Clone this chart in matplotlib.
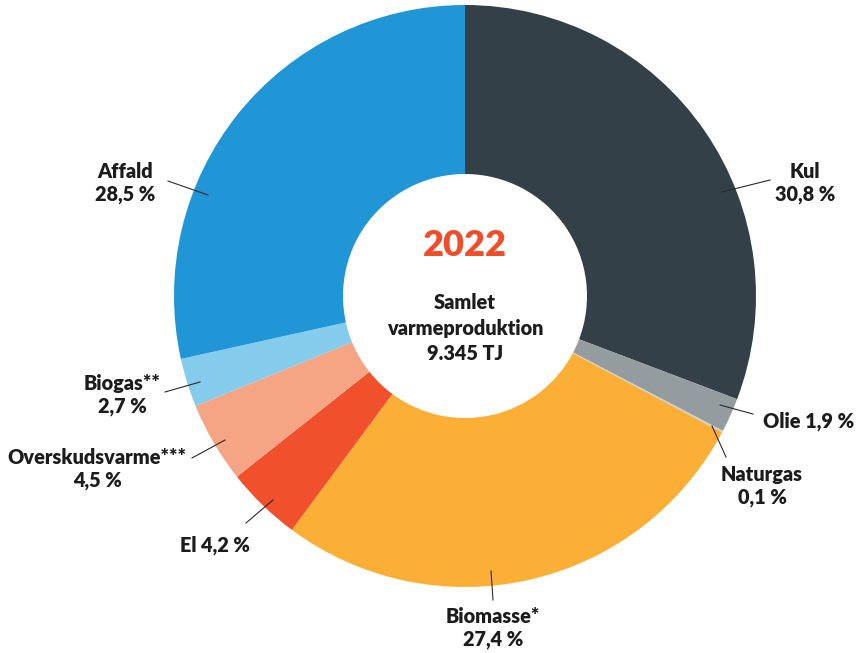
import matplotlib.pyplot as plt

# Andele af samlet varmeproduktion 2022 (%)
kategorier = ['Kul', 'Olie', 'Naturgas', 'Biomasse*', 'El', 'Overskudsvarme***', 'Biogas**', 'Affald']
andele = [30.8, 1.9, 0.1, 27.4, 4.2, 4.5, 2.7, 28.5]
etiketter = ['Kul\n30,8 %', 'Olie 1,9 %', 'Naturgas\n0,1 %', 'Biomasse*\n27,4 %', 'El 4,2 %',
             'Overskudsvarme***\n4,5 %', 'Biogas**\n2,7 %', 'Affald\n28,5 %']
farver = ['#334047', '#949CA0', '#C9CED1', '#FBAF36', '#F0502B', '#F6A584', '#85CBEB', '#2196D6']

# placering af etiketter og streger (pixel, y fra bunden)
H = 653
etiket_pos = [(805, H - 183), (763, H - 421), (762, H - 486), (493, H - 628), (215, H - 545),
              (97, H - 469), (122, H - 395), (125, H - 183)]
etiket_ha = ['center', 'left', 'center', 'center', 'center', 'center', 'center', 'center']
streger = [((722, 192), (770, 180)), ((720, 405), (753, 414)), ((712, 426), (726, 457)),
           ((491, 571), (493, 600)), ((273, 500), (246, 523)), ((225, 440), (192, 458)),
           ((200, 382), (165, 392)), ((208, 195), (168, 181))]

plt.rcParams['font.family'] = ['Lato', 'DejaVu Sans']
tekstfarve = '#1c1c1c'

fig = plt.figure(figsize=(8.57, 6.53), dpi=100)
ax = fig.add_axes([0, 0, 1, 1])

R = 291
r_inner = 122
centrum = (465, H - 296)
ax.pie(andele, colors=farver, startangle=90, counterclock=False, radius=R, center=centrum,
       wedgeprops=dict(width=R - r_inner, linewidth=0), frame=True)
ax.set_xlim(0, 857)
ax.set_ylim(0, H)
ax.axis('off')

for (p1, p2) in streger:
    ax.plot([p1[0], p2[0]], [H - p1[1], H - p2[1]], color='#2a2a2a', lw=0.8)

for tekst, (x, y), ha in zip(etiketter, etiket_pos, etiket_ha):
    ax.text(x, y, tekst, ha=ha, va='center', fontsize=14.3, fontweight='heavy',
            color=tekstfarve, linespacing=1.2)

ax.text(centrum[0], H - 245, '2022', ha='center', va='center', fontsize=26,
        fontweight='heavy', color='#F04E2A')
ax.text(centrum[0], H - 328, 'Samlet\nvarmeproduktion\n9.345 TJ', ha='center', va='center',
        fontsize=14.3, fontweight='heavy', color=tekstfarve, linespacing=1.4)

fig.savefig('out.png', dpi=100)
